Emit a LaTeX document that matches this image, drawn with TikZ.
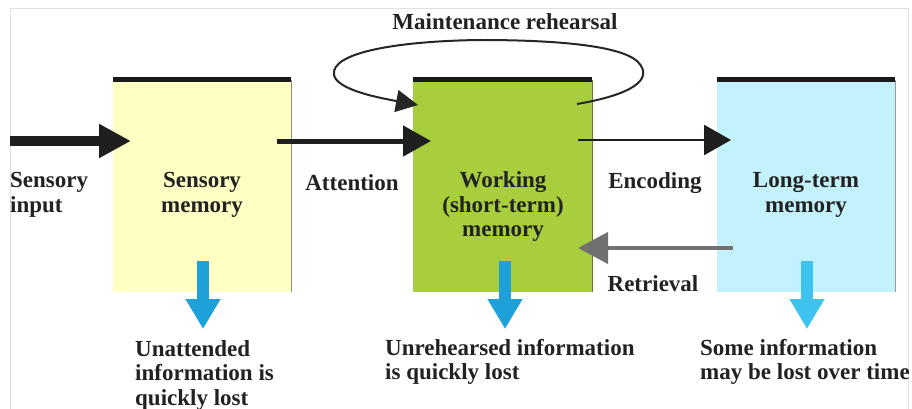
\documentclass[tikz,border=0pt]{standalone}
\usepackage{fontspec}
\setmainfont{Liberation Serif}
\usetikzlibrary{arrows.meta}
\definecolor{boxyellow}{RGB}{255,255,196}
\definecolor{boxgreen}{RGB}{168,206,62}
\definecolor{boxblue}{RGB}{196,242,252}
\definecolor{lossblue}{RGB}{30,160,216}
\definecolor{lossbluelight}{RGB}{62,195,238}
\definecolor{txt}{RGB}{34,34,34}
\definecolor{retgray}{RGB}{112,112,112}
\begin{document}
\begin{tikzpicture}[x=1pt,y=-1pt,
  memstore/.style={minimum width=178pt, minimum height=212pt, inner sep=0pt, draw=none, anchor=north west},
  topbar/.style={line width=5pt, draw=black!90},
  sideedge/.style={line width=1pt},
  lbl/.style={font=\fontsize{23}{24.5}\selectfont\bfseries, text=txt, inner sep=0pt, align=center},
  lblleft/.style={lbl, align=left, anchor=west},
  lossarrow/.style={line width=12pt, -{Triangle[length=30pt,width=33pt]}},
]
\useasboundingbox (0,0) rectangle (912,409);
\draw[black!12, line width=1pt] (10,412) -- (10,9) -- (908,9) -- (908,412);

% memory stores
\node[memstore, fill=boxyellow] (sm) at (113,80) {};
\node[memstore, fill=boxgreen, minimum width=179pt] (wm) at (413,80) {};
\node[memstore, fill=boxblue] (lt) at (717,80) {};

\draw[sideedge, draw=black!45] (sm.north east) -- (sm.south east);
\draw[sideedge, draw=black!40!boxgreen] (wm.north east) -- (wm.south east);
\draw[sideedge, draw=black!40] (lt.north east) -- (lt.south east);

\draw[topbar] (sm.north west) -- (sm.north east);
\draw[topbar] (wm.north west) -- (wm.north east);
\draw[topbar] (lt.north west) -- (lt.north east);

% labels
\node[lblleft] (inputlbl) at (10,195) {Sensory\\input};
\node[lbl] (smlbl) at (202,195) {Sensory\\memory};
\node[lbl] (attlbl) at (352,183) {Attention};
\node[lbl] (wmlbl) at (503,207) {Working\\(short-term)\\memory};
\node[lbl] (enclbl) at (655,183) {Encoding};
\node[lbl] (ltlbl) at (806,195) {Long-term\\memory};
\node[lbl] (retlbl) at (653,284) {Retrieval};
\node[lbl] (mrlbl) at (505,22) {Maintenance rehearsal};

\node[lblleft] (loss1) at (135,375) {Unattended\\information is\\quickly lost};
\node[lblleft] (loss2) at (385,362) {Unrehearsed information\\is quickly lost};
\node[lblleft] (loss3) at (700,362) {Some information\\may be lost over time};

% connector end points
\coordinate (inStart) at (10,141);
\coordinate (smIn) at (131,141);
\coordinate (smOut) at (277,141);
\coordinate (wmIn) at (431,141);
\coordinate (wmOut) at (578,140);
\coordinate (ltIn) at (731,140);
\coordinate (ltOut) at (733,248);
\coordinate (wmBack) at (578,248);
\coordinate (loopStart) at (577,104);
\coordinate (loopEnd) at (418,105);
\coordinate (smLossA) at (203,261);
\coordinate (smLossB) at (203,329);
\coordinate (wmLossA) at (505,261);
\coordinate (wmLossB) at (505,329);
\coordinate (ltLossA) at (807,261);
\coordinate (ltLossB) at (807,329);

% connectors
\draw[line width=10pt, black!88, -{Triangle[length=32pt,width=32pt]}] (inStart) -- (smIn);
\draw[line width=5pt, black!88, -{Triangle[length=28pt,width=30pt]}] (smOut) -- (wmIn);
\draw[line width=2.5pt, black!88, -{Triangle[length=27pt,width=30pt]}] (wmOut) -- (ltIn);
\draw[line width=4pt, retgray, -{Triangle[length=30pt,width=31pt]}] (ltOut) -- (wmBack);
\draw[line width=2pt, black!85, -{Triangle[length=22pt,width=22pt]}]
  (loopStart) .. controls (630,95) and (655,80) .. (638,62)
  .. controls (620,44) and (545,40) .. (480,40)
  .. controls (400,41) and (330,52) .. (334,75)
  .. controls (337,90) and (380,98) .. (loopEnd);

\draw[lossarrow, draw=lossblue, fill=lossblue] (smLossA) -- (smLossB);
\draw[lossarrow, draw=lossblue, fill=lossblue] (wmLossA) -- (wmLossB);
\draw[lossarrow, draw=lossbluelight, fill=lossbluelight] (ltLossA) -- (ltLossB);
\end{tikzpicture}
\end{document}
